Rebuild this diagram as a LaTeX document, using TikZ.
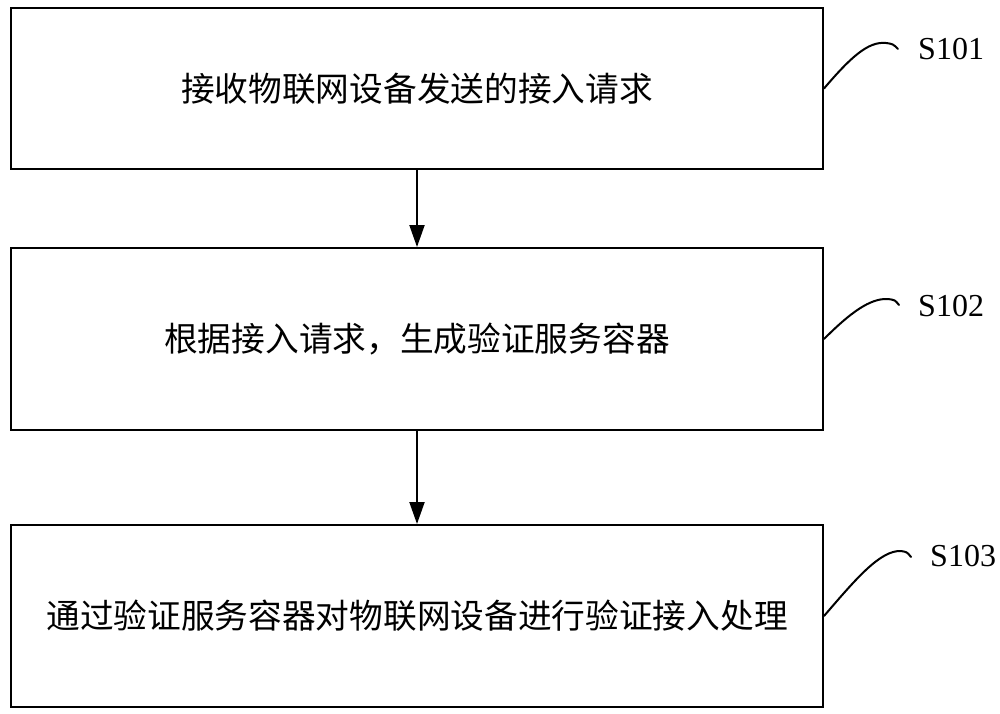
\documentclass[tikz,border=0pt]{standalone}
\usepackage{fontspec}
\setmainfont{Liberation Serif}
\newfontfamily\cjk{Noto Sans CJK SC}
\usetikzlibrary{arrows.meta}
\begin{document}
\begin{tikzpicture}[x=1pt,y=-1pt,
  stepbox/.style={draw, line width=2pt, minimum width=812pt, inner sep=0pt, font=\cjk\fontsize{33.7}{38}\selectfont},
  flow/.style={line width=2pt, -{Triangle[width=15pt,length=22pt]}},
  hook/.style={line width=2pt, line cap=round},
  steplabel/.style={anchor=west, inner sep=0pt, font=\fontsize{32}{36}\selectfont}]
\useasboundingbox (0,0) rectangle (1000,713);
\node[stepbox, minimum height=161pt] (b1) at (417,88.5) {接收物联网设备发送的接入请求};
\node[stepbox, minimum height=182pt] (b2) at (417,339) {根据接入请求，生成验证服务容器};
\node[stepbox, minimum height=182pt] (b3) at (417,616) {通过验证服务容器对物联网设备进行验证接入处理};
\draw[flow] (b1.south) -- (b2.north);
\draw[flow] (b2.south) -- (b3.north);
\coordinate (e1) at (898,49);
\coordinate (e2) at (899,305);
\coordinate (e3) at (911,557);
\draw[hook] (b1.east) .. controls (850,58) and (868,41) .. (886,43) .. controls (893,44) .. (e1);
\draw[hook] (b2.east) .. controls (850,313) and (870,298) .. (888,299) .. controls (895,300) .. (e2);
\draw[hook] (b3.east) .. controls (855,580) and (880,550) .. (901,551) .. controls (907,552) .. (e3);
\node[steplabel] (s1) at (918,49) {S101};
\node[steplabel] (s2) at (918,306) {S102};
\node[steplabel] (s3) at (930,556) {S103};
\end{tikzpicture}
\end{document}
